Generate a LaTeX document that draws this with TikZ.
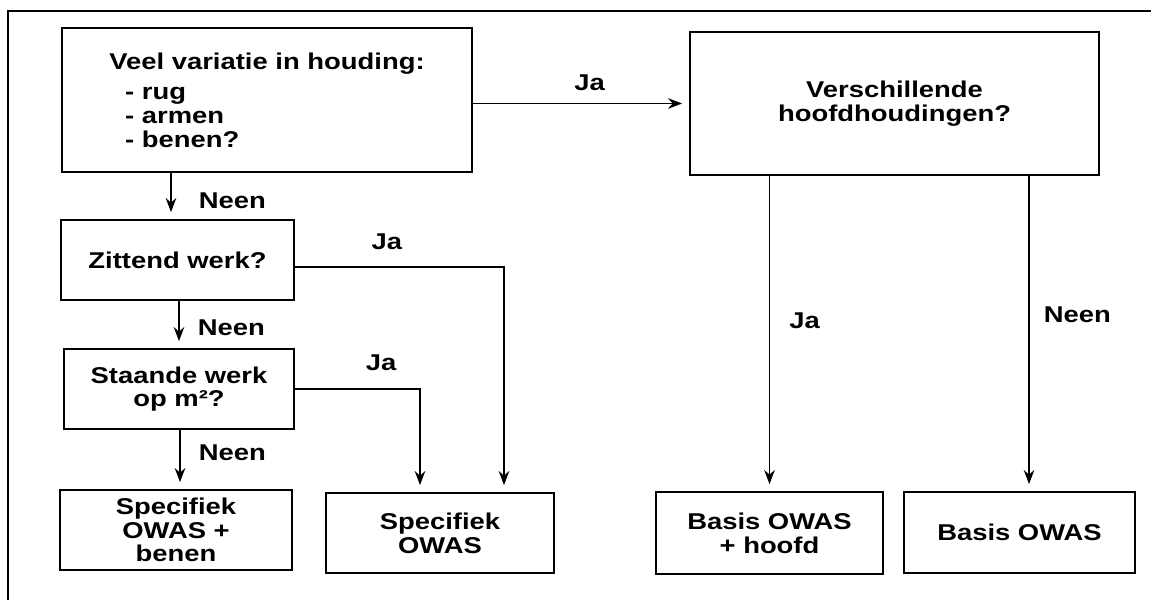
\documentclass[tikz,border=0pt]{standalone}
\usepackage{fontspec}
\setmainfont{Liberation Sans}[FakeStretch=1.2]
\usetikzlibrary{arrows.meta}
\usetikzlibrary{positioning}

\begin{document}
\begin{tikzpicture}[x=0.02cm,y=-0.02cm,>={Stealth[length=8pt,width=6pt]},
                    font=\fontsize{13}{13.5}\selectfont\bfseries,
                    main node/.style={rectangle,draw,line width=1pt,align=center,inner sep=0pt},
                    edge label/.style={inner sep=0pt},
                    flow/.style={->,shorten >=4pt,line width=0.9pt}]
  \useasboundingbox (0,0) rectangle (1151,604);
  \draw[line width=1.4pt] (8,600) -- (8,11) -- (1151,11);

  \node[main node,minimum width=8.2cm,minimum height=2.88cm,align=left] (1) at (267,100)
    {Veel variatie in houding:\\[4pt]\hspace*{9pt}- rug\\\hspace*{9pt}- armen\\\hspace*{9pt}- benen?};
  \node[main node,minimum width=8.18cm,minimum height=2.86cm] (2) at (894.5,103.5) {Verschillende\\hoofdhoudingen?};
  \node[main node,minimum width=4.66cm,minimum height=1.6cm] (3) at (177.5,260) {Zittend werk?};
  \node[main node,minimum width=4.6cm,minimum height=1.6cm] (4) at (179,389) {Staande werk\\op m²?};
  \node[main node,minimum width=4.64cm,minimum height=1.6cm] (5) at (176,530) {Specifiek\\OWAS +\\benen};
  \node[main node,minimum width=4.56cm,minimum height=1.6cm] (6) at (440,533) {Specifiek\\OWAS};
  \node[main node,minimum width=4.54cm,minimum height=1.64cm] (7) at (769.5,533) {Basis OWAS\\+ hoofd};
  \node[main node,minimum width=4.62cm,minimum height=1.62cm] (8) at (1019.5,532.5) {Basis OWAS};

  % ja-takken
  \draw[flow] (1.east |- 2.west) -- (2.west) node[edge label,pos=.54,above=0.23cm] {Ja};
  \draw[flow] ([yshift=-0.14cm]3.east) -| ([xshift=1.28cm]6.north) node[edge label,pos=.22,above=0.33cm] {Ja};
  \draw[flow] (4.east) -| ([xshift=-0.4cm]6.north) node[edge label,pos=.345,above=0.35cm] {Ja};
  \draw[flow] (2.south -| 7.north) -- (7.north) node[edge label,pos=.46,right=0.38cm] {Ja};

  % neen-takken
  \draw[flow] ([xshift=-0.13cm]3.north |- 1.south) -- ([xshift=-0.13cm]3.north) node[edge label,pos=.6,right=0.54cm] {Neen};
  \draw[flow] (4.north |- 3.south) -- (4.north) node[edge label,pos=.57,right=0.36cm] {Neen};
  \draw[flow] ([xshift=0.08cm]5.north |- 4.south) -- ([xshift=0.08cm]5.north) node[edge label,pos=.39,right=0.36cm] {Neen};
  \draw[flow] ([xshift=0.19cm]8.north |- 2.south) -- ([xshift=0.19cm]8.north) node[edge label,pos=.44,right=0.28cm] {Neen};
\end{tikzpicture}
\end{document}
